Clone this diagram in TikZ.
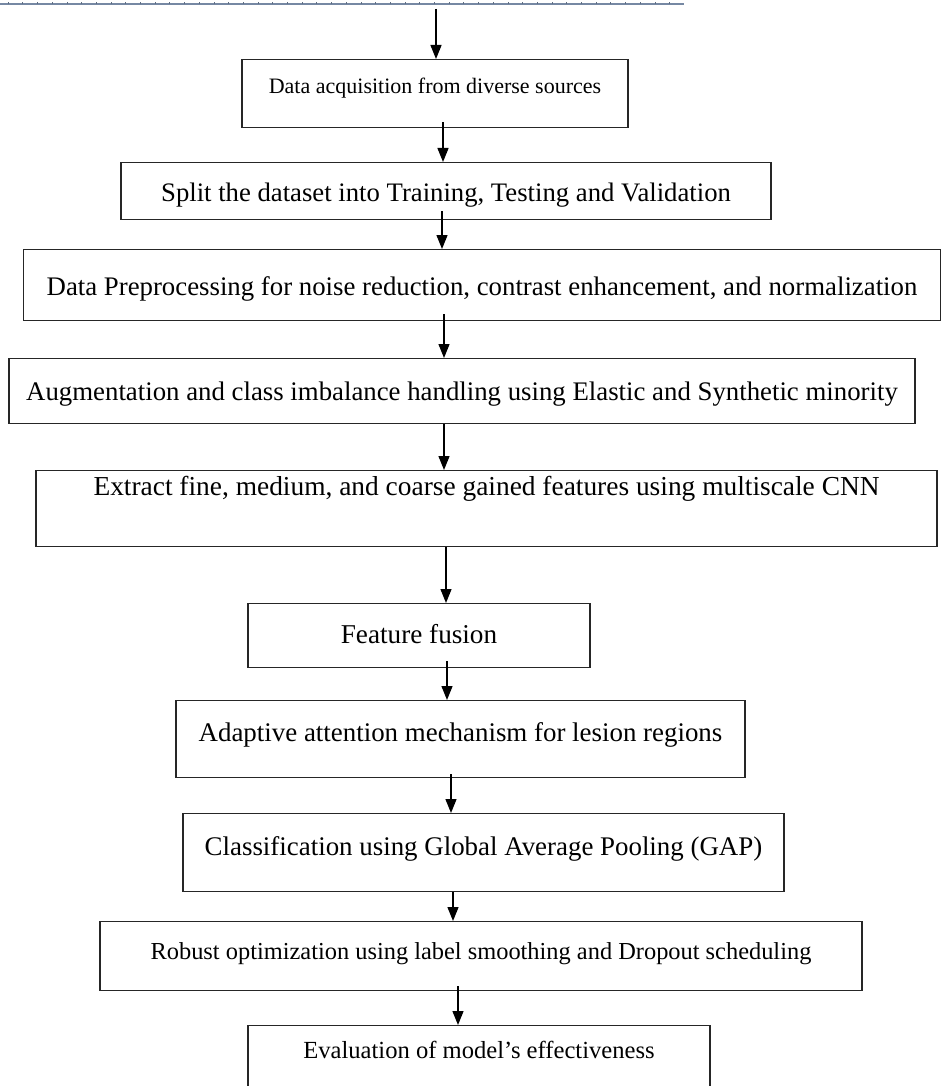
\documentclass[tikz,border=0pt]{standalone}
\usepackage{fontspec}
\setmainfont{Liberation Serif}
\usetikzlibrary{arrows.meta}
\definecolor{rulegray}{RGB}{118,136,163}
\tikzset{
  stepbox/.style={draw=black!85, line width=1.4pt, inner sep=0pt, anchor=north},
  fsz/.style={font=\fontsize{#1}{#1}\selectfont},
  flow/.style={-{Triangle[width=11pt,length=14pt]}, line width=1.3pt},
}

\begin{document}
\begin{tikzpicture}[x=1pt, y=-1pt]
  \useasboundingbox (0,0) rectangle (945,1086);
  \clip (0,0) rectangle (945,1086);

  % ruler line at the top of the page
  \draw[rulegray, line width=1.8pt] (0,4) -- (684,4);
  \foreach \i in {0,...,45}
    \draw[rulegray!80!black, line width=0.5pt] (8+14.7*\i,4) -- ++(0,-1.5);

  % steps
  \node[stepbox, fsz=22, minimum width=386pt, text height=34pt, text depth=34pt]
    (acq) at (435,59) {Data acquisition from diverse sources};
  \node[stepbox, fsz=26.7, minimum width=650pt, text height=39pt, text depth=18pt]
    (split) at (446,162) {Split the dataset into Training, Testing and Validation};
  \node[stepbox, fsz=26.8, minimum width=917pt, text height=46pt, text depth=25pt]
    (prep) at (482,249) {Data Preprocessing for noise reduction, contrast enhancement, and normalization};
  \node[stepbox, fsz=26.8, minimum width=906pt, text height=42pt, text depth=23pt]
    (aug) at (462,358) {Augmentation and class imbalance handling using Elastic and Synthetic minority};
  \node[stepbox, fsz=27.4, minimum width=901pt, text height=25pt, text depth=51pt]
    (ext) at (486.5,470) {Extract fine, medium, and coarse gained features using multiscale CNN};
  \node[stepbox, fsz=27.2, minimum width=342pt, text height=40pt, text depth=24pt]
    (fus) at (419,603) {Feature fusion};
  \node[stepbox, fsz=26.9, minimum width=569pt, text height=41pt, text depth=36pt]
    (att) at (460.5,700) {Adaptive attention mechanism for lesion regions};
  \node[stepbox, fsz=26.9, minimum width=601pt, text height=42pt, text depth=36pt]
    (gap) at (483.5,813) {Classification using Global Average Pooling (GAP)};
  \node[stepbox, fsz=24.4, minimum width=762pt, text height=38pt, text depth=31pt]
    (opt) at (481,921) {Robust optimization using label smoothing and Dropout scheduling};
  \node[stepbox, fsz=24.6, minimum width=462pt, text height=33pt, text depth=57pt]
    (eval) at (479,1025) {Evaluation of model’s effectiveness};

  % arrows
  \coordinate (src) at (436,9);
  \draw[flow] (src) -- (src |- acq.north);
  \draw[flow] ([xshift=8pt,yshift=6pt]acq.south) -- ([xshift=-3pt]split.north);
  \draw[flow] ([xshift=-4pt,yshift=9pt]split.south) -- ([xshift=-40pt]prep.north);
  \draw[flow] ([xshift=-38pt,yshift=7pt]prep.south) -- ([xshift=-18pt]aug.north);
  \draw[flow] ([xshift=-18pt]aug.south) -- ([xshift=-42.5pt]ext.north);
  \draw[flow] ([xshift=-40.5pt]ext.south) -- ([xshift=27pt]fus.north);
  \draw[flow] ([xshift=28pt,yshift=7pt]fus.south) -- ([xshift=-13.5pt]att.north);
  \draw[flow] ([xshift=-9.5pt,yshift=4pt]att.south) -- ([xshift=-32.5pt]gap.north);
  \draw[flow] ([xshift=-30.5pt]gap.south) -- ([xshift=-28pt]opt.north);
  \draw[flow] ([xshift=-23pt,yshift=5pt]opt.south) -- ([xshift=-21pt]eval.north);
\end{tikzpicture}
\end{document}
